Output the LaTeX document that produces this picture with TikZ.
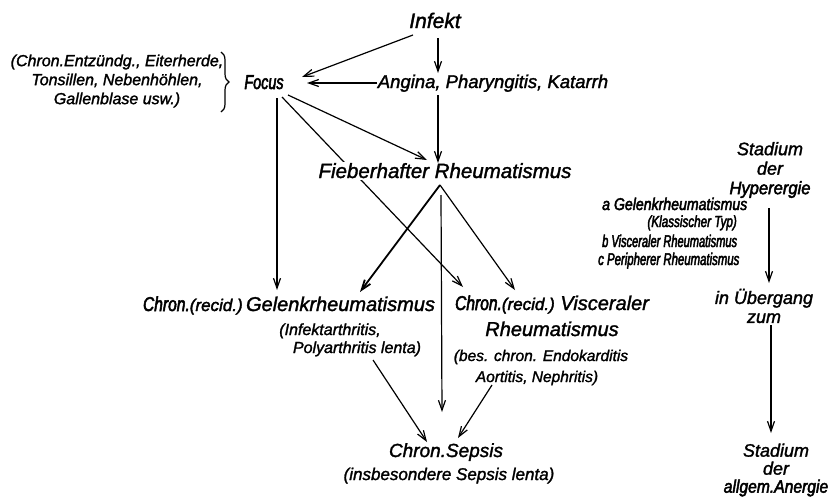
\documentclass[tikz,border=0pt]{standalone}
\usepackage{fontspec}
\setmainfont{Liberation Sans}[FakeBold=1.6]
\usetikzlibrary{arrows.meta,decorations.pathreplacing,backgrounds}

% narrower lettering at the current size, emboldened to keep the stroke weight
\newcommand\sx[2]{{\fontspec{Liberation Sans}[FakeBold=2.6,FakeStretch=#1]\itshape #2}}
% smaller "(recid.)" inside the chronic labels
\newcommand\recid{{\fontspec{Liberation Sans}[FakeBold=2.2]\itshape\fontsize{17}{18}\selectfont(recid.)}}

\tikzset{
  txt/.style={inner sep=0pt, anchor=base},
  fs/.style 2 args={font=\itshape\fontsize{#1}{#2}\selectfont},
  block/.style={inner sep=0pt, align=center},
  arr/.style={line width=1.2pt, -{Straight Barb[length=10pt,width=7pt]}},
  heavy/.style={arr, line width=1.8pt},
  plain/.style={line width=1.2pt}
}

\begin{document}
\begin{tikzpicture}[x=1pt,y=-1pt]
\useasboundingbox (0,0) rectangle (831,498);

% --- labels ---
\node[txt,fs={21}{24}] (infekt) at (435,28) {Infekt};
\node[txt,fs={20}{22}] (focus) at (264,89) {\sx{0.72}{Focus}};
\node[txt,fs={18.5}{21}] (angina) at (493,88) {Angina, Pharyngitis, Katarrh};
\node[txt,fs={20.5}{23},fill=white,inner sep=1.5pt] (fieber) at (445,178) {Fieberhafter Rheumatismus};
\node[block,fs={16}{19}] (paren) at (117,81)
  {(Chron.Entzündg., Eiterherde,\\Tonsillen, Nebenhöhlen,\\Gallenblase usw.)};

\node[txt,fs={20}{22}] (gelenk) at (289,311)
  {\sx{0.78}{Chron.}\recid\,Gelenkrheumatismus};
\node[txt,fs={16}{18}] (gelA) at (330,335) {(Infektarthritis,};
\node[txt,fs={16}{18}] (gelB) at (357,353) {Polyarthritis lenta)};

\node[txt,fs={20}{22}] (visc) at (552,310)
  {\sx{0.78}{Chron.}\recid\ Visceraler};
\node[txt,fs={20}{22}] (viscB) at (552,336) {Rheumatismus};
\node[txt,fs={15.5}{18}] (viscC) at (541,361) {(bes. chron. Endokarditis};
\node[txt,fs={15.5}{18}] (viscD) at (537,382) {Aortitis, Nephritis)};

\node[txt,fs={19}{21}] (sepsis) at (446,457) {Chron.Sepsis};
\node[txt,fs={17}{19}] (sepsub) at (449,480) {(insbesondere Sepsis lenta)};

% forms of the feverish stage
\node[txt,anchor=base west,fs={17}{18}] (la) at (602,210) {\sx{0.83}{a Gelenkrheumatismus}};
\node[txt,anchor=base east,fs={16}{18}] (lk) at (737,227) {\sx{0.73}{(Klassischer Typ)}};
\node[txt,anchor=base west,fs={17}{18}] (lb) at (602,247) {\sx{0.65}{b Visceraler Rheumatismus}};
\node[txt,anchor=base west,fs={17}{18}] (lc) at (598,265) {\sx{0.67}{c Peripherer Rheumatismus}};

% stages of reactivity
\node[block,fs={18}{19.5}] (hyper) at (770,170) {Stadium\\der\\\sx{0.92}{Hyperergie}};
\node[block,fs={18}{19}] (ueber) at (764,306) {in Übergang\\zum};
\node[block,fs={18}{18}] (anergie) at (776,470) {Stadium\\der\\\sx{0.87}{allgem.Anergie}};

% --- brace ---
\draw[plain,decorate,decoration={brace,amplitude=8pt}]
  ([shift={(104,-29)}]paren.center) -- ([shift={(104,31)}]paren.center);

% --- connectors ---
\draw[arr] ([shift={(-22,7)}]infekt.base) -- ([shift={(38,-12)}]focus.base);
\draw[arr] ([shift={(3,10)}]infekt.base) -- ([shift={(-55,-15)}]angina.base);
\draw[arr] ([shift={(-116,-5)}]angina.base) -- ([shift={(43,-6)}]focus.base);
\draw[arr] ([shift={(-55,7)}]angina.base) -- ([shift={(-7,-15)}]fieber.base);
\draw[arr] ([shift={(24,6)}]focus.base) -- ([shift={(-18,-18)}]fieber.base);
\draw[arr] ([shift={(13,9)}]focus.base) -- ([shift={(-12,-21)}]gelenk.base);
\begin{pgfonlayer}{background}
  \draw[arr] ([shift={(18,8)}]focus.base) -- ([shift={(-89,-23)}]visc.base);
\end{pgfonlayer}
\draw[heavy] ([shift={(-5,7)}]fieber.base) -- ([shift={(71,-19)}]gelenk.base);
\draw[arr] ([shift={(-5,7)}]fieber.base) -- ([shift={(-37,-20)}]visc.base);
\draw[arr] ([shift={(-4,17)}]fieber.base) -- ([shift={(-4,-45)}]sepsis.base);
\draw[arr] ([shift={(16,7)}]gelB.base) -- ([shift={(-19,-15)}]sepsis.base);
\draw[arr] ([shift={(-45,3)}]viscD.base) -- ([shift={(12,-19)}]sepsis.base);

\draw[arr] ([shift={(-1,38)}]hyper.center) -- ([shift={(5,-23)}]ueber.center);
\draw[arr] ([shift={(7,19)}]ueber.center) -- ([shift={(-5,-37)}]anergie.center);
\end{tikzpicture}
\end{document}
